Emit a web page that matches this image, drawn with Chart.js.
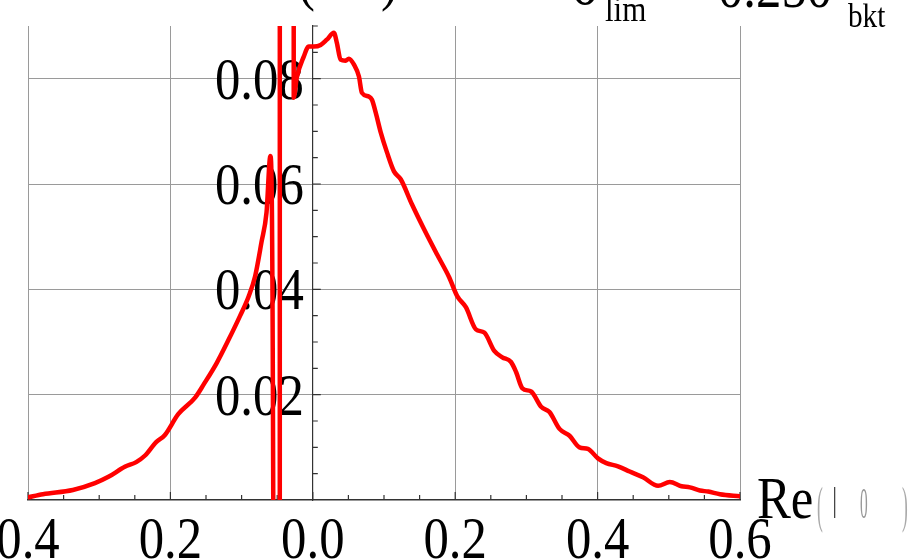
<!DOCTYPE html>
<html>
<head>
<meta charset="utf-8">
<script src="https://cdn.jsdelivr.net/npm/chart.js@4.4.1/dist/chart.umd.min.js"></script>
<style>
  html, body { margin: 0; padding: 0; background: #fff; }
</style>
</head>
<body>
<canvas id="c" width="918" height="560"></canvas>
<script>
// curve samples (x = Re value, y = density)
var reX = [-0.400, -0.379, -0.337, -0.306, -0.287, -0.264, -0.248, -0.236, -0.220, -0.208,
           -0.189, -0.165, -0.153, -0.135, -0.118, -0.102, -0.090, -0.081, -0.072, -0.065,
           -0.0596, -0.0555, -0.0545, -0.0465, -0.0462, -0.0275, -0.0268, -0.0225, -0.0127, -0.0056,
           0.0014, 0.011, 0.0197, 0.0296, 0.0338, 0.039, 0.046, 0.0507, 0.0577, 0.0648,
           0.069, 0.0789, 0.0831, 0.0883, 0.0954, 0.1042, 0.114, 0.1235, 0.1394, 0.1563,
           0.1746, 0.1915, 0.2028, 0.2150, 0.2291, 0.2408, 0.2549, 0.2662, 0.2784, 0.2855,
           0.2944, 0.3066, 0.3207, 0.3324, 0.3465, 0.3606, 0.3746, 0.3864, 0.4005, 0.4122,
           0.4286, 0.4451, 0.4638, 0.4850, 0.5014, 0.5178, 0.5296, 0.5437, 0.5554, 0.5718, 0.600];
var density = [0.0005, 0.0011, 0.0019, 0.0032, 0.0044, 0.0063, 0.0072, 0.0084, 0.0110, 0.0123,
           0.0163, 0.0195, 0.0220, 0.0260, 0.0305, 0.0350, 0.0387, 0.0425, 0.0490, 0.0546,
           0.0653, -0.003, -1, -1, 1, 1, 0.0764, 0.0802, 0.0842, 0.0861,
           0.0861, 0.0864, 0.0874, 0.0887, 0.0868, 0.0836, 0.0834, 0.0838, 0.0827, 0.0804,
           0.0773, 0.0766, 0.0760, 0.0736, 0.0698, 0.0660, 0.0624, 0.0609, 0.0561, 0.0514,
           0.0466, 0.0423, 0.0387, 0.0366, 0.0324, 0.0318, 0.0283, 0.0271, 0.0262, 0.0243,
           0.0212, 0.0206, 0.0177, 0.0167, 0.0135, 0.0122, 0.0100, 0.0097, 0.0079, 0.0070,
           0.0064, 0.0054, 0.0043, 0.0027, 0.0034, 0.0026, 0.0024, 0.0018, 0.0016, 0.0011, 0.0007];

var xTicks = [-0.4, -0.2, 0, 0.2, 0.4, 0.6];
var xTickLabels = ['0.4', '0.2', '0.0', '0.2', '0.4', '0.6'];
var xMinor = [-0.35, -0.3, -0.25, -0.15, -0.1, -0.05, 0.05, 0.1, 0.15, 0.25, 0.3, 0.35, 0.45, 0.5, 0.55];
var yTicks = [0.02, 0.04, 0.06, 0.08];
var yTickLabels = ['0.02', '0.04', '0.06', '0.08'];
var yMinor = [0.005, 0.01, 0.015, 0.025, 0.03, 0.035, 0.045, 0.05, 0.055, 0.065, 0.07, 0.075, 0.085, 0.09];

var FONT = '"Liberation Serif", "Times New Roman", serif';

function txt(ctx, s, x, y, size, align, color, sx) {
  ctx.save();
  ctx.font = size + 'px ' + FONT;
  ctx.fillStyle = color || '#000';
  ctx.textAlign = align || 'left';
  ctx.textBaseline = 'alphabetic';
  ctx.translate(x, y);
  ctx.scale(sx || 0.86, 1);
  ctx.fillText(s, 0, 0);
  ctx.restore();
}

// minor/major tick marks pointing inward + labels
var decor = {
  id: 'decor',
  beforeDatasetsDraw: function(chart) {
    var ctx = chart.ctx, xs = chart.scales.x, ys = chart.scales.y;
    var a = chart.chartArea;
    var x0 = xs.getPixelForValue(0);
    ctx.save();
    ctx.strokeStyle = '#333';
    ctx.lineWidth = 1.2;
    ctx.beginPath();
    xTicks.forEach(function(v) { var p = xs.getPixelForValue(v); ctx.moveTo(p, a.bottom); ctx.lineTo(p, a.bottom - 8); });
    xMinor.forEach(function(v) { var p = xs.getPixelForValue(v); ctx.moveTo(p, a.bottom); ctx.lineTo(p, a.bottom - 5); });
    yTicks.forEach(function(v) { var p = ys.getPixelForValue(v); ctx.moveTo(x0, p); ctx.lineTo(x0 + 8, p); });
    yMinor.forEach(function(v) { var p = ys.getPixelForValue(v); ctx.moveTo(x0, p); ctx.lineTo(x0 + 5, p); });
    ctx.stroke();
    ctx.restore();

    yTicks.forEach(function(v, i) {
      txt(ctx, yTickLabels[i], x0 - 9, ys.getPixelForValue(v) + 20, 59, 'right');
    });
  },
  afterDraw: function(chart) {
    var ctx = chart.ctx, xs = chart.scales.x;
    xTicks.forEach(function(v, i) {
      txt(ctx, xTickLabels[i], xs.getPixelForValue(v), 558, 59, 'center');
    });
    // axis label, the bracket part is rendered faint like in the source
    txt(ctx, 'Re', 757, 518, 59, 'left');
    txt(ctx, '(', 817, 522, 50, 'left', '#aaa', 0.35);
    txt(ctx, 'ǀ', 832, 518, 44, 'left', '#444', 0.6);
    txt(ctx, '0', 860, 518, 44, 'left', '#999', 0.35);
    txt(ctx, ')', 902, 522, 50, 'left', '#aaa', 0.35);

    // title, cut by the top edge
    txt(ctx, '(', 298, -1, 59, 'left');
    txt(ctx, ')', 381, -1, 59, 'left');
    txt(ctx, 'σ', 572, 4, 59, 'left');
    txt(ctx, 'lim', 605, 21, 36, 'left');
    txt(ctx, '0.250', 718, 7, 59, 'left');
    txt(ctx, 'bkt', 848, 27, 34, 'left');
  }
};

var pts = reX.map(function(x, i) { return { x: x, y: density[i] }; });

new Chart(document.getElementById('c'), {
  type: 'line',
  data: {
    datasets: [{
      data: pts,
      borderColor: '#ff0000',
      borderWidth: 4.5,
      pointRadius: 0,
      cubicInterpolationMode: 'monotone',
      borderJoinStyle: 'round',
      borderCapStyle: 'round',
      fill: false
    }]
  },
  options: {
    responsive: false,
    animation: false,
    devicePixelRatio: 1,
    layout: { padding: { left: 28, right: 178, top: 26, bottom: 60 } },
    plugins: { legend: { display: false }, tooltip: { enabled: false } },
    scales: {
      x: {
        type: 'linear', min: -0.4, max: 0.6,
        afterBuildTicks: function(s) { s.ticks = xTicks.map(function(v) { return { value: v }; }); },
        ticks: { display: false },
        grid: { color: '#9a9a9a', lineWidth: 1, drawTicks: false },
        border: { color: '#333', width: 1.5 }
      },
      y: {
        type: 'linear', min: 0, max: 0.09,
        position: { x: 0 },
        afterBuildTicks: function(s) { s.ticks = yTicks.map(function(v) { return { value: v }; }); },
        ticks: { display: false },
        grid: { color: '#9a9a9a', lineWidth: 1, drawTicks: false },
        border: { color: '#333', width: 1.2 }
      }
    }
  },
  plugins: [decor]
});
</script>
</body>
</html>
